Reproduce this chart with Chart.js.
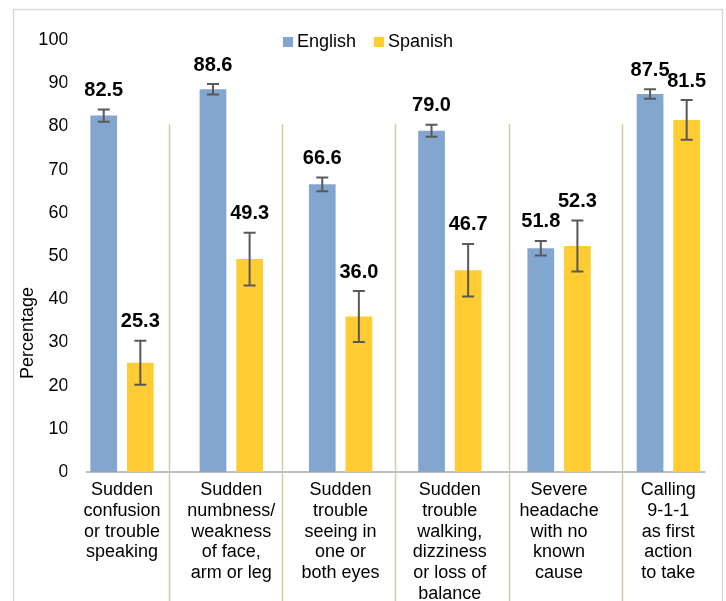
<!DOCTYPE html>
<html><head><meta charset="utf-8">
<script src="https://cdn.jsdelivr.net/npm/chart.js@4/dist/chart.umd.min.js"></script>
<style>html,body{margin:0;padding:0;background:#fff;}#wrap{width:726px;height:601px;position:relative;}</style>
</head><body><div id="wrap"><canvas id="c"></canvas></div>
<script>
const categories = [
  ["Sudden","confusion","or trouble","speaking"],
  ["Sudden","numbness/","weakness","of face,","arm or leg"],
  ["Sudden","trouble","seeing in","one or","both eyes"],
  ["Sudden","trouble","walking,","dizziness","or loss of","balance"],
  ["Severe","headache","with no","known","cause"],
  ["Calling","9-1-1","as first","action","to take"]
];
const seriesNames = ["English", "Spanish"];
const englishValues = [82.5, 88.6, 66.6, 79.0, 51.8, 87.5];
const spanishValues = [25.3, 49.3, 36.0, 46.7, 52.3, 81.5];
const englishErrors = [1.4, 1.2, 1.6, 1.4, 1.7, 1.1];
const spanishErrors = [5.1, 6.1, 5.9, 6.1, 5.9, 4.6];
const yTicks = [0, 10, 20, 30, 40, 50, 60, 70, 80, 90, 100];
const yTitle = "Percentage";

const colors = ["#82A6D0", "#FFCC33"];
const errors = [englishErrors, spanishErrors];
const FONT = "'Liberation Sans', Arial, sans-serif";

const decor = {
  id: 'decor',
  beforeDraw(chart) {
    const ctx = chart.ctx;
    ctx.save();
    ctx.fillStyle = '#fff';
    ctx.fillRect(0, 0, chart.width, chart.height);
    ctx.strokeStyle = '#D9D9D9';
    ctx.lineWidth = 1.5;
    ctx.strokeRect(13.5, 9.5, 709, 640);
    ctx.restore();
  },
  beforeDatasetsDraw(chart) {
    const ctx = chart.ctx, xs = chart.scales.x, ys = chart.scales.y;
    ctx.save();
    // separators between categories
    const step = (xs.getPixelForValue(1) - xs.getPixelForValue(0)) * 1.037;
    const mid = (xs.getPixelForValue(2) + xs.getPixelForValue(3)) / 2;
    ctx.strokeStyle = '#D2CAA2';
    ctx.lineWidth = 1.5;
    for (let i = 0; i < categories.length - 1; i++) {
      const x = Math.round(mid + (i - 2) * step) + 0.5;
      ctx.beginPath();
      ctx.moveTo(x, ys.getPixelForValue(80.5));
      ctx.lineTo(x, chart.height);
      ctx.stroke();
    }
    // axis line
    ctx.strokeStyle = '#BFBFBF';
    ctx.lineWidth = 2;
    const y0 = ys.getPixelForValue(0);
    ctx.beginPath();
    ctx.moveTo(chart.chartArea.left + 18.5, y0);
    ctx.lineTo(chart.chartArea.right - 17.5, y0);
    ctx.stroke();
    ctx.restore();
  },
  afterDatasetsDraw(chart) {
    const ctx = chart.ctx, ys = chart.scales.y;
    ctx.save();
    chart.data.datasets.forEach((ds, di) => {
      const meta = chart.getDatasetMeta(di);
      meta.data.forEach((bar, i) => {
        const v = ds.data[i], e = errors[di][i];
        const x = bar.x;
        const yt = ys.getPixelForValue(v + e), yb = ys.getPixelForValue(v - e);
        ctx.strokeStyle = '#595959';
        ctx.lineWidth = 2;
        ctx.beginPath();
        ctx.moveTo(x, yt); ctx.lineTo(x, yb);
        ctx.moveTo(x - 6, yt); ctx.lineTo(x + 6, yt);
        ctx.moveTo(x - 6, yb); ctx.lineTo(x + 6, yb);
        ctx.stroke();
        ctx.fillStyle = '#000';
        ctx.font = 'bold 20px ' + FONT;
        ctx.textAlign = 'center';
        ctx.textBaseline = 'middle';
        ctx.fillText(v.toFixed(1), x, yt - 19);
      });
    });
    // legend
    ctx.font = '18px ' + FONT;
    ctx.textAlign = 'left';
    ctx.textBaseline = 'middle';
    const legendX = [283, 374];
    seriesNames.forEach((n, i) => {
      ctx.fillStyle = colors[i];
      ctx.fillRect(legendX[i], 37, 10, 10);
      ctx.fillStyle = '#000';
      ctx.fillText(n, legendX[i] + 14, 42);
    });
    // y title
    ctx.save();
    ctx.translate(28, 333);
    ctx.rotate(-Math.PI / 2);
    ctx.textAlign = 'center';
    ctx.textBaseline = 'middle';
    ctx.font = '18px ' + FONT;
    ctx.fillStyle = '#000';
    ctx.fillText(yTitle, 0, 0);
    ctx.restore();
    ctx.restore();
  }
};

new Chart(document.getElementById('c'), {
  type: 'bar',
  data: {
    labels: categories,
    datasets: [
      { label: seriesNames[0], data: englishValues, backgroundColor: colors[0] },
      { label: seriesNames[1], data: spanishValues, backgroundColor: colors[1] }
    ]
  },
  options: {
    responsive: true,
    maintainAspectRatio: false,
    animation: false,
    devicePixelRatio: 1,
    categoryPercentage: 0.67,
    barPercentage: 0.73,
    layout: { padding: { left: 0, right: 3, top: 40, bottom: 0 } },
    plugins: { legend: { display: false }, tooltip: { enabled: false } },
    scales: {
      x: {
        grid: { display: false, drawTicks: false },
        border: { display: false },
        ticks: { font: { family: FONT, size: 18, lineHeight: 1.15 }, color: '#000', padding: 8, maxRotation: 0, autoSkip: false },
        afterFit(s) { s.height = 129; }
      },
      y: {
        min: 0, max: 100,
        grid: { display: false, drawTicks: false },
        border: { display: false },
        afterBuildTicks(s) { s.ticks = yTicks.map(v => ({ value: v })); },
        ticks: { font: { family: FONT, size: 18 }, color: '#000', padding: -1 },
        afterFit(s) { s.width = 67.4; }
      }
    }
  },
  plugins: [decor]
});
</script></body></html>
